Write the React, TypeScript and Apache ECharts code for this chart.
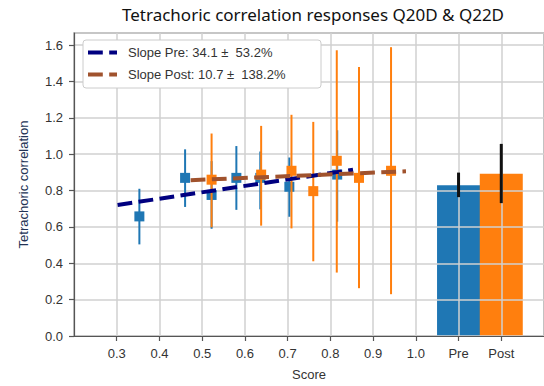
import React, { useEffect, useRef } from "react";
import * as echarts from "echarts";

// Pre (blue) binned points
const preX = [0.353, 0.46, 0.522, 0.58, 0.636, 0.704, 0.816];
const preY = [0.658, 0.87, 0.776, 0.87, 0.87, 0.821, 0.888];
const preLo = [0.504, 0.71, 0.59, 0.694, 0.697, 0.656, 0.629];
const preHi = [0.81, 1.027, 0.962, 1.045, 1.015, 0.982, 1.132];

// Post (orange) binned points
const postX = [0.522, 0.638, 0.709, 0.76, 0.815, 0.867, 0.942];
const postY = [0.86, 0.888, 0.909, 0.797, 0.964, 0.87, 0.909];
const postLo = [0.598, 0.607, 0.592, 0.411, 0.349, 0.263, 0.23];
const postHi = [1.114, 1.156, 1.217, 1.178, 1.572, 1.48, 1.589];

// Trend lines (endpoints)
const preFitX = [0.302, 0.853];
const preFitY = [0.721, 0.915];
const postFitX = [0.473, 0.977];
const postFitY = [0.857, 0.906];

// Summary bars
const barLabels = ["Pre", "Post"];
const barPos = [1.1, 1.2];
const barVal = [0.83, 0.893];
const barLo = [0.764, 0.731];
const barHi = [0.899, 1.057];

const legendTexts = ["Slope Pre: 34.1 \u00b1  53.2%", "Slope Post: 10.7 \u00b1  138.2%"];

const BLUE = "#1f77b4";
const ORANGE = "#ff7f0e";
const NAVY = "#000080";
const SIENNA = "#a0522d";
const FONT = "Liberation Sans";

function errSeries(xs: number[], lo: number[], hi: number[], color: string, width: number, z: number) {
  return {
    type: "custom",
    z,
    data: xs.map((x, i) => [x, lo[i], hi[i]]),
    encode: { x: 0, y: [1, 2] },
    renderItem: (params: any, api: any) => {
      const p1 = api.coord([api.value(0), api.value(1)]);
      const p2 = api.coord([api.value(0), api.value(2)]);
      return {
        type: "line",
        shape: { x1: p1[0], y1: p1[1], x2: p2[0], y2: p2[1] },
        style: { stroke: color, lineWidth: width },
      };
    },
  };
}

export default function App() {
  const ref = useRef<HTMLDivElement>(null);
  useEffect(() => {
    if (!ref.current) return;
    const chart = echarts.init(ref.current, null, { renderer: "svg" });
    const xLabel = (v: number) => {
      const r = Math.round(v * 10) / 10;
      if (r <= 0.2 + 1e-9 || r >= 1.3 - 1e-9) return "";
      const idx = barPos.findIndex((p) => Math.abs(p - r) < 1e-6);
      if (idx >= 0) return barLabels[idx];
      return r.toFixed(1);
    };
    const option: any = {
      animation: false,
      backgroundColor: "#ffffff",
      title: {
        text: "Tetrachoric correlation responses Q20D & Q22D",
        left: 308,
        textAlign: "center",
        top: 1,
        textStyle: { fontFamily: "Noto Sans", fontSize: 17, fontWeight: "normal", color: "#111" },
      },
      grid: {
        left: 74,
        top: 33,
        width: 473,
        height: 307,
        show: true,
        borderColor: "#555",
        borderWidth: 1.2,
      },
      xAxis: {
        type: "value",
        min: 0.2,
        max: 1.3,
        interval: 0.1,
        z: 1,
        name: "Score",
        nameLocation: "middle",
        nameGap: 32,
        nameTextStyle: { fontFamily: FONT, fontSize: 13, color: "#333" },
        axisLine: { show: true, lineStyle: { color: "#555", width: 1.2 } },
        axisTick: { show: true, length: 5, lineStyle: { color: "#555", width: 1.2 } },
        axisLabel: { formatter: xLabel, fontFamily: FONT, fontSize: 13, color: "#333", margin: 11, showMinLabel: false, showMaxLabel: false },
        splitLine: { show: true, lineStyle: { color: "#d0d0d0", width: 1.5 } },
      },
      yAxis: {
        type: "value",
        min: 0,
        max: 1.667,
        interval: 0.2,
        z: 1,
        name: "Tetrachoric correlation",
        nameLocation: "middle",
        nameGap: 44,
        nameTextStyle: { fontFamily: FONT, fontSize: 13, color: "#223355" },
        axisLine: { show: true, lineStyle: { color: "#555", width: 1.2 } },
        axisTick: { show: true, length: 5, lineStyle: { color: "#555", width: 1.2 } },
        axisLabel: { formatter: (v: number) => v.toFixed(1), fontFamily: FONT, fontSize: 13, color: "#333", margin: 11, showMaxLabel: false },
        splitLine: { show: true, lineStyle: { color: "#d0d0d0", width: 1.5 } },
      },
      series: [
        {
          type: "bar",
          z: 0,
          barWidth: 43,
          data: barPos.map((p, i) => ({ value: [p, barVal[i]], itemStyle: { color: i === 0 ? BLUE : ORANGE } })),
        },
        errSeries(barPos, barLo, barHi, "#111", 3, 3),
        errSeries(preX, preLo, preHi, BLUE, 2, 3),
        {
          type: "scatter",
          z: 3,
          symbol: "rect",
          symbolSize: 10,
          itemStyle: { color: BLUE, opacity: 1 },
          data: preX.map((x, i) => [x, preY[i]]),
        },
        errSeries(postX, postLo, postHi, ORANGE, 2, 4),
        {
          type: "scatter",
          z: 4,
          symbol: "rect",
          symbolSize: 10,
          itemStyle: { color: ORANGE, opacity: 1 },
          data: postX.map((x, i) => [x, postY[i]]),
        },
        {
          type: "line",
          name: "Pre fit",
          z: 5,
          symbol: "none",
          data: preFitX.map((x, i) => [x, preFitY[i]]),
          lineStyle: { color: NAVY, width: 4, type: [14.8, 6.4] },
        },
        {
          type: "line",
          name: "Post fit",
          z: 5,
          symbol: "none",
          data: postFitX.map((x, i) => [x, postFitY[i]]),
          lineStyle: { color: SIENNA, width: 4, type: [14.8, 6.4] },
        },
      ],
      graphic: [
        {
          type: "rect",
          z: 20,
          shape: { x: 83, y: 40, width: 238, height: 48, r: 3 },
          style: { fill: "#ffffff", stroke: "#cccccc", lineWidth: 1 },
        },
        {
          type: "line",
          z: 21,
          shape: { x1: 88, y1: 52.5, x2: 117, y2: 52.5 },
          style: { stroke: NAVY, lineWidth: 4, lineDash: [14.8, 6.4] },
        },
        {
          type: "line",
          z: 21,
          shape: { x1: 88, y1: 74.5, x2: 117, y2: 74.5 },
          style: { stroke: SIENNA, lineWidth: 4, lineDash: [14.8, 6.4] },
        },
        {
          type: "text",
          z: 21,
          x: 128,
          y: 52.5,
          style: { text: legendTexts[0], fontFamily: FONT, fontSize: 13, fill: "#333", verticalAlign: "middle" },
        },
        {
          type: "text",
          z: 21,
          x: 128,
          y: 74.5,
          style: { text: legendTexts[1], fontFamily: FONT, fontSize: 13, fill: "#333", verticalAlign: "middle" },
        },
      ],
    };
    chart.setOption(option);
    return () => chart.dispose();
  }, []);
  return (
    <div
      ref={ref}
      style={{ position: "absolute", left: 0, top: 0, width: 544, height: 386, overflow: "hidden" }}
    />
  );
}
